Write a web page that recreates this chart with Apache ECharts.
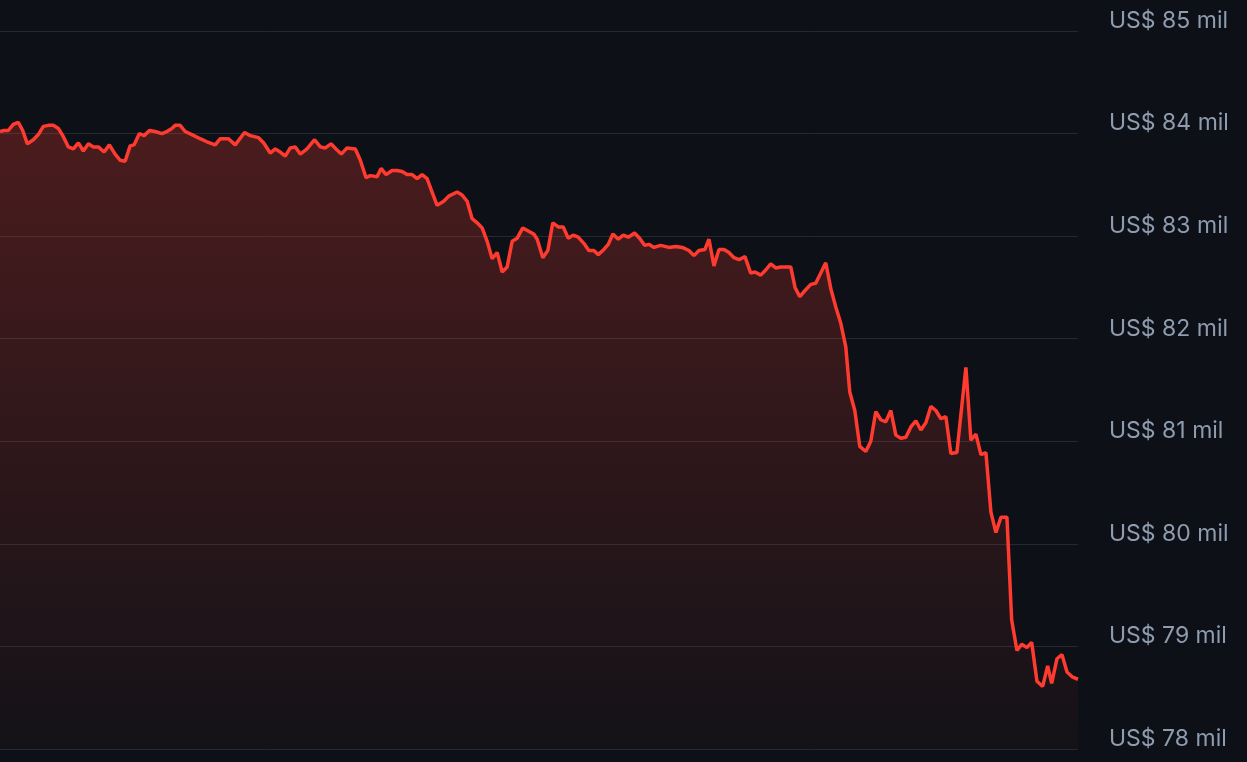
<!DOCTYPE html>
<html>
<head>
<meta charset="utf-8">
<script src="https://cdn.jsdelivr.net/npm/echarts@6/dist/echarts.min.js"></script>
<style>
html,body{margin:0;padding:0;background:#0d1117;}
#chart{width:1247px;height:762px;}
</style>
</head>
<body>
<div id="chart"></div>
<script>
// sample positions (time index) and prices (US$ thousands)
const times = [
0,4,8.3,13.3,18.3,22.7,27.3,33.3,38.3,43.3,48.3,53.3,58.3,63.3,68.3,73.3,78.3,83.3,88.3,93.3,
98.3,104,109.3,115,120,125,130,134,139.3,144,149.3,155,161.7,166.7,171.7,175,180,185,191.7,200,
206.7,215,220,228.3,235,244.3,250,258.3,263.3,270,275,280,285,290,295,300,306.7,314.3,320,325,
330.7,335.7,341,346.7,355,360,365.7,370,376.7,380.7,385.7,391.7,396.7,401.7,406.7,411.7,416.7,421.7,426.7,431.7,
436.7,443.3,448.3,456.7,461.7,466.7,471.7,476.7,481.7,486.7,491.7,496.7,501.7,506.7,511.7,516.7,522.3,527.7,533.3,536.7,
542.3,547.3,552.3,557.7,562.7,567.7,572.7,577.7,583.3,588.3,593.3,597.7,603.3,607.7,612.3,617.7,622.7,627.7,634,639,
644,648.3,653.3,660,668.3,675,681.7,688.3,693.3,698.3,704.3,708.3,713.3,718.3,723.3,728.3,733.3,738.3,744.3,750,
754.3,760,765,770,775,780,790,794.3,799,804.3,810,815,820,825,830,835,840,845,849,854,
859,865,870,875,880,885,890,895,900,905,910,915,920,925,930,935,940,945,950,956,
965,970,975,980,985,990,995,1000,1006,1010.7,1016,1020.7,1026,1030.7,1036,1041.7,1046.7,1050.7,1056,1061,
1066,1071.7,1077
];
const prices = [
84.02,84.03,84.03,84.09,84.11,84.03,83.90,83.94,83.99,84.07,84.08,84.08,84.05,83.97,83.87,83.85,83.91,83.83,83.90,83.87,
83.87,83.82,83.89,83.80,83.74,83.73,83.88,83.89,84.00,83.98,84.03,84.02,84.00,84.02,84.05,84.08,84.08,84.02,83.99,83.95,
83.92,83.89,83.95,83.95,83.89,84.01,83.98,83.96,83.91,83.81,83.85,83.82,83.78,83.86,83.87,83.80,83.85,83.94,83.87,83.86,
83.90,83.85,83.80,83.86,83.85,83.74,83.57,83.59,83.58,83.66,83.60,83.64,83.64,83.63,83.60,83.60,83.56,83.60,83.56,83.43,
83.30,83.34,83.39,83.43,83.40,83.34,83.17,83.13,83.08,82.95,82.78,82.84,82.65,82.70,82.95,82.98,83.08,83.05,83.02,82.97,
82.79,82.86,83.13,83.09,83.09,82.98,83.01,82.99,82.93,82.86,82.86,82.82,82.87,82.92,83.02,82.97,83.01,82.99,83.03,82.98,
82.91,82.92,82.89,82.91,82.89,82.90,82.89,82.86,82.81,82.86,82.87,82.97,82.71,82.87,82.87,82.84,82.79,82.77,82.80,82.64,
82.65,82.62,82.67,82.73,82.69,82.70,82.70,82.50,82.41,82.47,82.53,82.54,82.64,82.74,82.49,82.31,82.15,81.92,81.48,81.30,
80.95,80.90,81.00,81.29,81.21,81.19,81.30,81.06,81.03,81.04,81.14,81.20,81.11,81.18,81.34,81.30,81.22,81.24,80.88,80.89,
81.72,81.01,81.07,80.87,80.89,80.31,80.11,80.26,80.26,79.26,78.96,79.02,78.99,79.04,78.66,78.61,78.81,78.64,78.88,78.92,
78.75,78.70,78.68
];
const yTicks = [78, 79, 80, 81, 82, 83, 84, 85];
const tickLabel = v => 'US$ ' + v + ' mil';

const seriesData = times.map((t, i) => [t, prices[i]]);

const chart = echarts.init(document.getElementById('chart'), null, {renderer: 'canvas'});
chart.setOption({
  backgroundColor: '#0d1117',
  animation: false,
  grid: {left: 0, right: 169, top: 31, bottom: 13, containLabel: false, outerBoundsMode: 'none'},
  xAxis: {
    type: 'value', min: 0, max: 1077,
    show: false
  },
  yAxis: {
    type: 'value', position: 'right',
    min: yTicks[0], max: yTicks[yTicks.length - 1], interval: 1,
    axisLine: {show: false}, axisTick: {show: false},
    splitLine: {show: true, lineStyle: {color: '#252a32', width: 1}},
    axisLabel: {
      margin: 31, color: '#8f9cb0', fontSize: 23, fontFamily: 'Inter',
      verticalAlign: 'bottom', lineHeight: 20,
      formatter: tickLabel
    }
  },
  series: [{
    type: 'line', data: seriesData, showSymbol: false, symbol: 'none',
    lineStyle: {color: '#ff3b30', width: 3.5},
    itemStyle: {color: '#ff3b30'},
    areaStyle: {
      color: new echarts.graphic.LinearGradient(0, 0, 0, 1, [
        {offset: 0, color: 'rgba(255,59,48,0.37)'},
        {offset: 1, color: 'rgba(255,59,48,0.04)'}
      ])
    }
  }]
});
</script>
</body>
</html>
